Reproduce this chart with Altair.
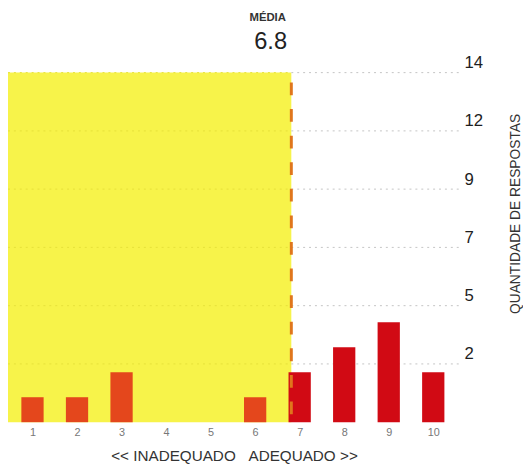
import altair as alt
import pandas as pd

# ---- data ----
scores = [1, 2, 3, 4, 5, 6, 7, 8, 9, 10]
counts = [1, 1, 2, 0, 0, 1, 2, 3, 4, 2]
y_ticks = [14 / 6 * k for k in range(1, 7)]   # shown rounded: 2 5 7 9 12 14
x_title = "<< INADEQUADO\u00a0\u00a0\u00a0ADEQUADO >>"
y_title = "QUANTIDADE DE RESPOSTAS"
mean_label = "MÉDIA"

total = sum(counts)
mean = sum(s * c for s, c in zip(scores, counts)) / total

X_MIN, X_MAX = 0.45, 10.6
Y_MAX = 14
FONT = "Liberation Sans"

bars_df = pd.DataFrame({"score": scores, "count": counts})
bars_df["lo"] = bars_df["score"] - 0.25
bars_df["hi"] = bars_df["score"] + 0.25
bars_df["side"] = ["in" if s < mean else "out" for s in scores]

band_df = pd.DataFrame({"x1": [X_MIN], "x2": [mean], "y1": [0], "y2": [Y_MAX]})
grid_out_df = pd.DataFrame({"y": y_ticks, "x1": [mean] * 6, "x2": [X_MAX] * 6})
grid_in_df = pd.DataFrame({"y": y_ticks, "x1": [X_MIN] * 6, "x2": [mean] * 6})
mean_df = pd.DataFrame({"m": [mean], "top": [Y_MAX], "zero": [0],
                        "label": [mean_label], "value": [f"{mean:.1f}"]})

xs = alt.Scale(domain=[X_MIN, X_MAX], nice=False, zero=False)
ys = alt.Scale(domain=[0, Y_MAX], nice=False)

x_axis = alt.Axis(
    values=scores, format="d", grid=False, domain=False, ticks=False,
    labelFont=FONT, labelFontSize=11, labelColor="#777777", labelPadding=5,
    title=x_title, titleFont=FONT, titleFontSize=15.5, titleFontWeight="normal",
    titleColor="#333333", titleY=34, titleBaseline="middle")
y_axis = alt.Axis(
    orient="right", values=y_ticks, format=".0f", grid=False, domain=False,
    ticks=False, labelFont=FONT, labelFontSize=17, labelColor="#1e1e1e",
    labelPadding=4, labelBaseline="bottom", labelOffset=-1,
    title=y_title, titleFont=FONT, titleFontSize=14, titleFontWeight="normal",
    titleColor="#333333", titleAngle=270, titleX=56, titleY=143,
    titleAlign="center", titleBaseline="middle")


def X(field):
    return alt.X(field, scale=xs, axis=x_axis)


def Y(field):
    return alt.Y(field, scale=ys, axis=y_axis)


band = alt.Chart(band_df).mark_rect(color="#f7f34a").encode(
    x=X("x1:Q"), x2="x2:Q", y=Y("y1:Q"), y2="y2:Q")

grid_out = alt.Chart(grid_out_df).mark_rule(
    strokeDash=[2, 4], strokeWidth=1, color="#c4c4c4").encode(
    x=X("x1:Q"), x2="x2:Q", y=Y("y:Q"))
grid_in = alt.Chart(grid_in_df).mark_rule(
    strokeDash=[2, 4], strokeWidth=1, color="#e6e13a").encode(
    x=X("x1:Q"), x2="x2:Q", y=Y("y:Q"))

bars = alt.Chart(bars_df).mark_rect().encode(
    x=X("lo:Q"), x2="hi:Q",
    y=Y("count:Q"), y2=alt.Y2(datum=0),
    color=alt.Color("side:N", scale=alt.Scale(domain=["in", "out"],
                                              range=["#e4471c", "#d10a14"]), legend=None),
)

mean_line = alt.Chart(mean_df).mark_rule(color="#e0761c", strokeWidth=3,
                                         strokeDash=[13, 14], strokeDashOffset=-8).encode(
    x=X("m:Q"), y=Y("zero:Q"), y2="top:Q")

mean_title = alt.Chart(mean_df).mark_text(font=FONT, fontSize=11.5, fontWeight="bold",
                                          color="#333333", dx=-24, dy=-55,
                                          baseline="middle").encode(
    x=X("m:Q"), y=Y("top:Q"), text="label:N")
mean_value = alt.Chart(mean_df).mark_text(font=FONT, fontSize=24, color="#222222",
                                          dx=-21, dy=-31, baseline="middle").encode(
    x=X("m:Q"), y=Y("top:Q"), text="value:N")

chart = alt.layer(band, grid_in, grid_out, bars, mean_line, mean_title, mean_value).properties(
    width=459, height=355,
    autosize=alt.AutoSizeParams(type="none"),
    padding={"left": 0, "top": 62, "right": 64, "bottom": 49},
).configure_view(stroke=None)

chart.save("out.html", embed_options={"renderer": "svg", "actions": False})
